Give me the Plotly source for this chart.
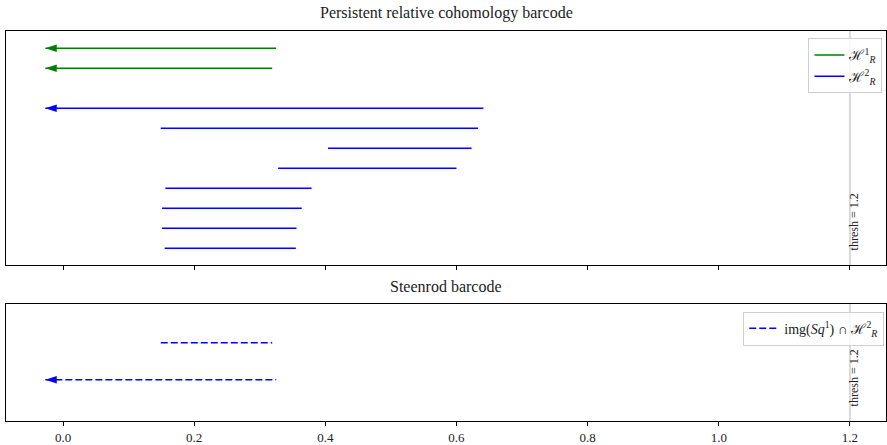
import math
import plotly.graph_objects as go
from plotly.subplots import make_subplots

# ---- data ----
INF = -math.inf
h1_start = [INF, INF]
h1_end = [0.325, 0.319]
h1_rows = [0, 1]

h2_start = [INF, 0.149, 0.404, 0.328, 0.156, 0.151, 0.151, 0.155]
h2_end = [0.641, 0.633, 0.623, 0.600, 0.379, 0.364, 0.356, 0.355]
h2_rows = [3, 4, 5, 6, 7, 8, 9, 10]

sq_start = [0.149, INF]
sq_end = [0.319, 0.325]
sq_rows = [0, 1]

arrow_tip = -0.027
thresh = 1.2
tick_vals = [0.0, 0.2, 0.4, 0.6, 0.8, 1.0, 1.2]
tick_text = ["0.0", "0.2", "0.4", "0.6", "0.8", "1.0", "1.2"]

GREEN = "#008000"
BLUE = "#0000ff"
FONT = "'Liberation Serif', 'DejaVu Serif', serif"

fig = make_subplots(rows=2, cols=1, shared_xaxes=True, vertical_spacing=0.0)


def add_bars(starts, ends, rows, color, name, legend, row, dash="solid"):
    first = True
    for s, e, r in zip(starts, ends, rows):
        infinite = s == -math.inf
        left = arrow_tip if infinite else s
        fig.add_trace(go.Scatter(
            x=[left, e], y=[r, r], mode="lines",
            line=dict(color=color, width=1.6, dash=dash),
            name=name, legendgroup=name, showlegend=first, legend=legend,
            hoverinfo="skip"), row=row, col=1)
        first = False
        if infinite:
            fig.add_trace(go.Scatter(
                x=[left], y=[r], mode="markers",
                marker=dict(symbol="arrow", angle=-90, size=12, color=color,
                            line=dict(width=0)),
                showlegend=False, legend=legend, hoverinfo="skip"), row=row, col=1)


add_bars(h1_start, h1_end, h1_rows, GREEN, "ℋ<sup>1</sup><sub><i>R</i></sub>", "legend", 1)
add_bars(h2_start, h2_end, h2_rows, BLUE, "ℋ<sup>2</sup><sub><i>R</i></sub>", "legend", 1)
add_bars(sq_start, sq_end, sq_rows, BLUE,
         "img(<i>Sq</i><sup>1</sup>) ∩ ℋ<sup>2</sup><sub><i>R</i></sub>", "legend2", 2,
         dash="7px,3px")

for r, yref in [(1, "y domain"), (2, "y2 domain")]:
    xr = "x" if r == 1 else "x2"
    fig.add_shape(type="line", xref=xr, yref=yref, x0=thresh, x1=thresh, y0=0, y1=1,
                  line=dict(color="rgba(0,0,0,0.15)", width=2), layer="below")
    fig.add_annotation(xref=xr, yref=yref, x=thresh, y=0, xanchor="center",
                       yanchor="bottom", xshift=4, yshift=13, textangle=-90,
                       text="thresh = 1.2", showarrow=False,
                       font=dict(family=FONT, size=12, color="#222"))

fig.add_annotation(xref="paper", yref="paper", x=0.5, y=1, yanchor="bottom", yshift=7,
                   text="Persistent relative cohomology barcode", showarrow=False,
                   font=dict(family=FONT, size=16, color="#222"))
fig.add_annotation(xref="paper", yref="paper", x=0.5, y=0.3008, yanchor="bottom", yshift=7,
                   text="Steenrod barcode", showarrow=False,
                   font=dict(family=FONT, size=16, color="#222"))

axis_common = dict(showline=True, linecolor="black", linewidth=1, mirror=True,
                   showgrid=False, zeroline=False)
fig.update_xaxes(range=[-0.087, 1.255], tickvals=tick_vals, ticktext=tick_text,
                 ticks="outside", ticklen=4, tickcolor="black",
                 tickfont=dict(family=FONT, size=13, color="#222"), **axis_common)
fig.update_xaxes(showticklabels=False, row=1, col=1)
fig.update_yaxes(showticklabels=False, ticks="", **axis_common)
fig.update_yaxes(range=[10.835, -0.865], domain=[0.4, 1.0], row=1, col=1)
fig.update_yaxes(range=[2.116, -1.054], domain=[0.0, 0.3008], row=2, col=1)

legend_style = dict(bgcolor="rgba(255,255,255,0.8)", bordercolor="#d0d0d0", borderwidth=1,
                    font=dict(family=FONT, size=14, color="#222"),
                    xanchor="right", yanchor="top", tracegroupgap=0,
                    itemwidth=30)
fig.update_layout(
    width=887, height=445,
    margin=dict(l=6, r=1, t=31, b=24),
    plot_bgcolor="white", paper_bgcolor="white",
    font=dict(family=FONT),
    legend=dict(x=0.996, y=0.981, **legend_style),
    legend2=dict(x=0.998, y=0.2803, **legend_style),
)

fig.write_html("out.html")
